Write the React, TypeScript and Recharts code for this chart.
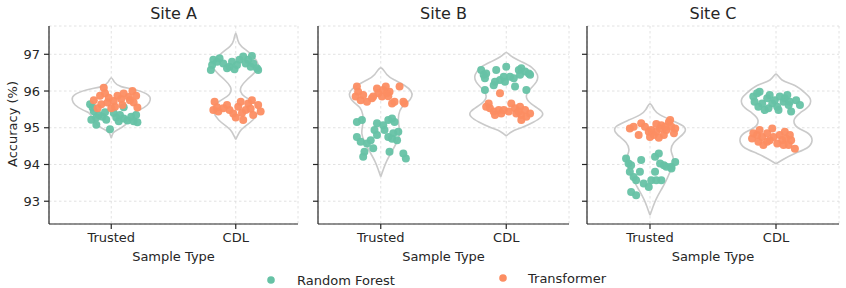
import React from 'react';
import { ScatterChart, Scatter, XAxis, YAxis, CartesianGrid } from 'recharts';

const categories = ['Trusted', 'CDL'];
const siteNames = ['Site A', 'Site B', 'Site C'];
const modelNames = ['Random Forest', 'Transformer'];
const yTicks = [93, 94, 95, 96, 97];
const yDomain = [92.38, 97.77];

// strip points: [horizontal jitter, accuracy %]
const aTrustedRF = [[-0.17,95.64],[-0.15,95.55],[-0.14,95.45],[-0.12,95.28],[-0.10,95.35],[-0.16,95.22],[-0.12,95.08],[-0.07,95.30],[-0.04,95.22],[-0.01,94.96],[0.02,95.40],[0.04,95.28],[0.06,95.18],[0.10,95.56],[0.10,95.25],[0.13,95.20],[0.16,95.30],[0.18,95.18],[0.20,95.35],[0.21,95.15],[-0.05,95.42],[0.07,95.35]];
const aTrustedTF = [[-0.06,96.09],[-0.14,95.75],[-0.09,95.87],[-0.05,95.94],[-0.02,95.82],[-0.08,95.64],[-0.11,95.53],[-0.03,95.69],[0.02,95.73],[0.05,95.87],[0.08,95.78],[0.10,95.93],[0.14,95.84],[0.17,96.0],[0.20,95.87],[0.18,95.69],[0.03,95.57],[0.0,95.53],[0.09,95.62],[0.15,95.75],[0.21,95.55]];
const aCdlRF = [[-0.19,96.71],[-0.18,96.85],[-0.20,96.57],[-0.15,96.80],[-0.13,96.89],[-0.10,96.75],[-0.07,96.62],[-0.05,96.66],[-0.03,96.80],[-0.01,96.59],[0.03,96.85],[0.06,96.94],[0.08,96.75],[0.10,96.85],[0.12,96.66],[0.14,96.75],[0.17,96.62],[0.18,96.57],[0.13,96.95],[0.01,96.71]];
const aCdlTF = [[-0.17,95.71],[-0.18,95.48],[-0.14,95.44],[-0.15,95.56],[-0.07,95.62],[-0.05,95.48],[-0.02,95.39],[0.02,95.57],[0.04,95.71],[0.06,95.21],[0.08,95.48],[0.10,95.66],[0.12,95.52],[0.13,95.75],[0.14,95.35],[0.18,95.62],[0.20,95.44],[-0.10,95.53],[0.0,95.28],[0.05,95.40]];

const bTrustedRF = [[-0.19,95.16],[-0.15,95.21],[-0.19,94.75],[-0.16,94.62],[-0.13,94.35],[-0.14,94.21],[-0.08,94.66],[-0.06,94.44],[-0.03,95.12],[-0.05,94.94],[-0.03,94.80],[0.03,94.94],[0.06,95.21],[0.09,95.25],[0.10,94.85],[0.13,94.66],[0.14,94.89],[0.07,94.35],[0.18,94.30],[0.20,94.16],[0.02,95.07],[0.11,95.16],[0.06,94.75],[-0.11,94.57],[0.09,94.70]];
const bTrustedTF = [[-0.19,96.12],[-0.18,95.98],[-0.20,95.85],[-0.16,95.75],[-0.14,95.89],[-0.11,95.71],[-0.07,95.80],[-0.03,96.07],[-0.02,95.94],[0.01,95.85],[0.02,96.03],[0.05,95.94],[0.07,95.98],[0.09,95.66],[0.11,95.71],[0.15,96.12],[0.18,95.71],[0.19,95.66],[-0.06,95.85],[0.06,95.86],[0.04,96.12]];
const bCdlRF = [[-0.20,96.57],[-0.18,96.44],[-0.16,96.48],[-0.17,96.35],[-0.08,96.57],[-0.09,96.25],[-0.10,96.16],[-0.05,96.30],[-0.02,96.39],[-0.01,96.25],[0.0,96.66],[0.03,96.39],[0.06,96.35],[0.07,96.12],[0.10,96.57],[0.12,96.62],[0.15,96.53],[0.18,96.48],[0.19,96.44],[0.16,96.03],[-0.17,96.03],[0.11,96.44]];
const bCdlTF = [[-0.05,95.94],[-0.14,95.66],[-0.13,95.53],[-0.10,95.44],[-0.06,95.48],[-0.04,95.39],[-0.02,95.48],[0.04,95.66],[0.07,95.53],[0.08,95.39],[0.11,95.57],[0.12,95.35],[0.15,95.48],[0.16,95.30],[0.19,95.39],[0.12,95.21],[-0.16,95.57],[-0.09,95.35],[0.02,95.44],[0.10,95.44]];

const cTrustedRF = [[-0.19,94.16],[-0.17,94.03],[-0.15,93.98],[-0.16,93.80],[-0.13,93.66],[-0.15,93.25],[-0.11,93.16],[-0.11,93.57],[-0.08,93.80],[-0.07,94.12],[-0.05,93.48],[-0.01,93.39],[0.01,93.57],[0.04,93.80],[0.04,94.21],[0.07,94.30],[0.05,93.57],[0.09,93.57],[0.11,93.98],[0.13,93.94],[0.17,93.94],[0.20,94.07],[0.17,93.89],[0.08,94.03]];
const cTrustedTF = [[-0.16,94.98],[-0.13,95.03],[-0.09,94.80],[-0.07,95.12],[-0.04,95.03],[-0.01,94.89],[0.01,94.94],[0.03,94.80],[0.05,94.89],[0.08,94.98],[0.09,95.07],[0.11,94.80],[0.13,94.94],[0.15,95.16],[0.16,95.21],[0.17,95.03],[0.19,94.85],[0.20,94.98],[0.0,94.75],[0.07,94.73],[0.12,95.03],[0.05,95.10]];
const cCdlRF = [[-0.18,95.85],[-0.15,95.94],[-0.17,95.71],[-0.14,95.57],[-0.11,95.66],[-0.13,95.98],[-0.07,95.80],[-0.05,95.89],[-0.03,95.66],[-0.01,95.75],[0.01,95.57],[0.03,95.85],[0.06,95.71],[0.07,95.80],[0.10,95.62],[0.11,95.71],[0.12,95.44],[0.16,95.75],[0.19,95.62],[-0.06,95.53],[-0.09,95.48],[0.02,95.48],[0.09,95.89]];
const cCdlTF = [[-0.19,94.71],[-0.18,94.85],[-0.15,94.80],[-0.14,94.62],[-0.11,94.75],[-0.10,94.53],[-0.07,94.85],[-0.05,94.66],[-0.03,94.98],[-0.02,94.75],[0.01,94.57],[0.03,94.80],[0.05,94.66],[0.07,94.89],[0.08,94.71],[0.10,94.53],[0.11,94.80],[0.12,94.66],[0.15,94.43],[-0.07,94.62],[0.06,94.53],[-0.13,94.94]];

// violin outlines: [accuracy %, half width]
const aTrustedViolin = [[96.36,0],[96.25,0.024],[96.12,0.08],[96.03,0.2],[95.89,0.297],[95.76,0.313],[95.62,0.29],[95.48,0.225],[95.40,0.177],[95.27,0.153],[95.08,0.112],[94.94,0.048],[94.86,0.016],[94.72,0]];
const aCdlViolin = [[97.57,0],[97.39,0.016],[97.21,0.048],[96.98,0.13],[96.75,0.177],[96.62,0.177],[96.48,0.145],[96.30,0.088],[96.12,0.044],[95.98,0.04],[95.85,0.072],[95.66,0.153],[95.44,0.177],[95.21,0.137],[95.03,0.072],[94.89,0.032],[94.68,0]];
const bTrustedViolin = [[96.63,0],[96.45,0.048],[96.3,0.11],[96.15,0.19],[96.0,0.24],[95.85,0.247],[95.7,0.215],[95.55,0.167],[95.35,0.143],[95.1,0.143],[94.85,0.151],[94.6,0.127],[94.35,0.088],[94.1,0.048],[93.9,0.024],[93.67,0]];
const bCdlViolin = [[97.05,0],[96.95,0.04],[96.8,0.12],[96.65,0.2],[96.45,0.247],[96.25,0.24],[96.05,0.19],[95.85,0.16],[95.65,0.2],[95.45,0.28],[95.3,0.28],[95.15,0.215],[95.0,0.12],[94.9,0.048],[94.78,0]];
const cTrustedViolin = [[95.65,0],[95.5,0.032],[95.35,0.08],[95.2,0.175],[95.05,0.262],[94.9,0.278],[94.75,0.238],[94.6,0.19],[94.4,0.167],[94.2,0.183],[94.0,0.183],[93.8,0.159],[93.55,0.127],[93.3,0.087],[93.05,0.048],[92.85,0.024],[92.62,0]];
const cCdlViolin = [[96.46,0],[96.3,0.048],[96.15,0.15],[95.95,0.23],[95.8,0.27],[95.6,0.262],[95.4,0.19],[95.2,0.143],[95.0,0.175],[94.85,0.254],[94.65,0.286],[94.45,0.246],[94.3,0.15],[94.15,0.063],[94.02,0]];

const GREEN = '#66c2a5';
const ORANGE = '#fc8d62';
const FONT = 'DejaVu Sans';
const TEXT = '#262626';

const toPoints = (arr: number[][], center: number) => arr.map(([dx, y]) => ({ x: center + dx, y }));
const toLoop = (prof: number[][], center: number) => {
  const asc = [...prof].sort((a, b) => a[0] - b[0]);
  const right = asc.map(([y, w]) => ({ x: center + w, y }));
  const left = asc.slice(0, -1).reverse().map(([y, w]) => ({ x: center - w, y }));
  return right.concat(left);
};

const sites = [
  { name: siteNames[0], violins: [aTrustedViolin, aCdlViolin], rf: [aTrustedRF, aCdlRF], tf: [aTrustedTF, aCdlTF] },
  { name: siteNames[1], violins: [bTrustedViolin, bCdlViolin], rf: [bTrustedRF, bCdlRF], tf: [bTrustedTF, bCdlTF] },
  { name: siteNames[2], violins: [cTrustedViolin, cCdlViolin], rf: [cTrustedRF, cCdlRF], tf: [cTrustedTF, cCdlTF] },
];

const panelLayout = [
  { left: 0, width: 300 },
  { left: 269, width: 302 },
  { left: 538, width: 303 },
];

const Dot = (color: string) => (props: any) => (
  <circle cx={props.cx} cy={props.cy} r={4} fill={color} fillOpacity={0.95} />
);
const NoShape = () => <g />;

const XTick = (props: any) => {
  const { x, y, payload } = props;
  return (
    <text x={x} y={y} dy={10} textAnchor="middle" fontSize={13} fontFamily={FONT} fill={TEXT}>
      {categories[payload.value]}
    </text>
  );
};
const YTick = (show: boolean) => (props: any) => {
  const { x, y, payload } = props;
  if (!show) return <g />;
  return (
    <text x={x} y={y} dy={4.5} textAnchor="end" fontSize={13} fontFamily={FONT} fill={TEXT}>
      {payload.value}
    </text>
  );
};

function Panel({ site, layout, showLabels }: any) {
  const rfData = site.rf.flatMap((arr: number[][], i: number) => toPoints(arr, i));
  const tfData = site.tf.flatMap((arr: number[][], i: number) => toPoints(arr, i));
  return (
    <div style={{ position: 'absolute', left: layout.left, top: 0 }}>
      <ScatterChart width={layout.width} height={288} margin={{ top: 26, right: 2, bottom: 24, left: 0 }}>
        <CartesianGrid stroke="#dadada" strokeDasharray="2.5 2.5" strokeWidth={0.8} />
        <XAxis
          type="number"
          dataKey="x"
          domain={[-0.5, 1.5]}
          ticks={[0, 1]}
          allowDataOverflow
          height={40}
          tickSize={5}
          tickMargin={3}
          stroke={TEXT}
          strokeWidth={1.2}
          tick={XTick}
        />
        <YAxis
          type="number"
          dataKey="y"
          domain={yDomain}
          ticks={yTicks}
          allowDataOverflow
          width={49}
          tickSize={5}
          tickMargin={4}
          stroke={TEXT}
          strokeWidth={1.2}
          tick={YTick(showLabels)}
        />
        {site.violins.map((prof: number[][], i: number) => (
          <Scatter
            key={'v' + i}
            data={toLoop(prof, i)}
            shape={NoShape}
            line={{ stroke: '#cacaca', strokeWidth: 1.6 }}
            lineType="joint"
            lineJointType="natural"
            isAnimationActive={false}
          />
        ))}
        <Scatter data={rfData} shape={Dot(GREEN)} isAnimationActive={false} />
        <Scatter data={tfData} shape={Dot(ORANGE)} isAnimationActive={false} />
      </ScatterChart>
    </div>
  );
}

export default function App() {
  const plotCenters = [173.5, 443.5, 713];
  return (
    <div style={{ position: 'absolute', left: 0, top: 0, width: 846, height: 288, background: '#fff', overflow: 'hidden' }}>
      {sites.map((s, i) => (
        <Panel key={i} site={s} layout={panelLayout[i]} showLabels={i === 0} />
      ))}
      <svg width={846} height={288} style={{ position: 'absolute', left: 0, top: 0, pointerEvents: 'none' }}>
        {sites.map((s, i) => (
          <text key={'t' + i} x={plotCenters[i]} y={19} textAnchor="middle" fontSize={16} fontFamily={FONT} fill={TEXT}>
            {s.name}
          </text>
        ))}
        {sites.map((s, i) => (
          <text key={'x' + i} x={plotCenters[i]} y={261} textAnchor="middle" fontSize={13} fontFamily={FONT} fill={TEXT}>
            Sample Type
          </text>
        ))}
        <text x={17} y={124} transform="rotate(-90 17 124)" textAnchor="middle" fontSize={13} fontFamily={FONT} fill={TEXT}>
          Accuracy (%)
        </text>
        <circle cx={271} cy={280} r={3.8} fill={GREEN} />
        <text x={297} y={284.5} fontSize={13} fontFamily={FONT} fill={TEXT}>{modelNames[0]}</text>
        <circle cx={503} cy={278} r={3.8} fill={ORANGE} />
        <text x={528} y={282.5} fontSize={13} fontFamily={FONT} fill={TEXT}>{modelNames[1]}</text>
      </svg>
    </div>
  );
}
